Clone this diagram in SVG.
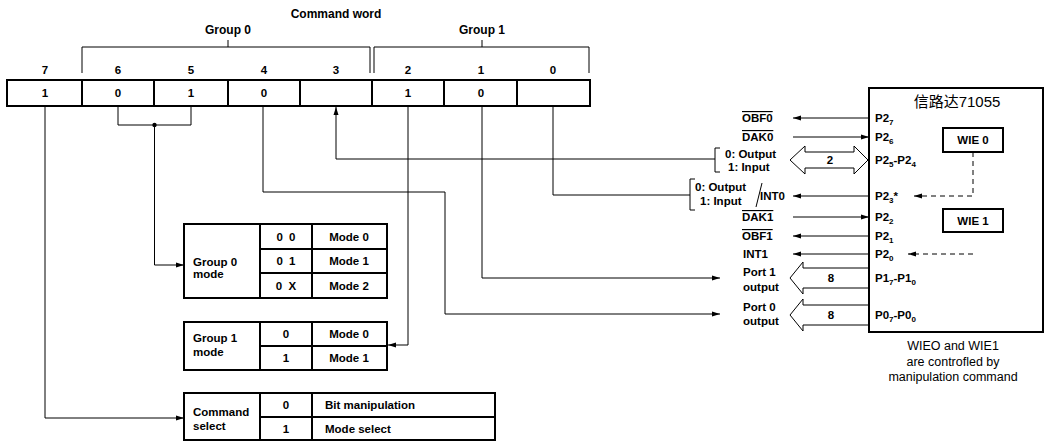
<svg xmlns="http://www.w3.org/2000/svg" width="1047" height="441" viewBox="0 0 1047 441">
<style>
text{font-family:"Liberation Sans",Arial,sans-serif;font-size:11.5px;font-weight:bold;fill:#000}
.c{text-anchor:middle}
.reg{font-weight:normal}
.box{fill:#fff;stroke:#000;stroke-width:2}
.ln{fill:none;stroke:#000;stroke-width:1}
.dash{fill:none;stroke:#000;stroke-width:1;stroke-dasharray:5,4}
.ol{text-decoration:overline}
</style>
<defs>
<marker id="ah" markerWidth="8" markerHeight="6" refX="8" refY="3" orient="auto" markerUnits="userSpaceOnUse"><path d="M0,0.5 L8,3 L0,5.5 z" fill="#000"/></marker>
</defs>
<rect width="1047" height="441" fill="#fff"/>

<g id="title">
<text class="c" x="336" y="18" style="font-size:12px">Command word</text>
<text class="c" x="228" y="34" style="font-size:12px">Group 0</text>
<text class="c" x="482" y="34" style="font-size:12px">Group 1</text>
</g>

<g id="brackets">
<path class="ln" d="M82,73 V47 H370 V73 M228,47 V40"/>
<path class="ln" d="M374,73 V47 H589 V73 M482,47 V40"/>
</g>

<g id="register">
<rect class="box" x="7" y="80" width="583" height="26"/>
<path stroke="#000" stroke-width="2" d="M82,80V106M154,80V106M228,80V106M300,80V106M372,80V106M444,80V106M517,80V106"/>
<text class="c" x="45" y="74">7</text>
<text class="c" x="118" y="74">6</text>
<text class="c" x="191" y="74">5</text>
<text class="c" x="264" y="74">4</text>
<text class="c" x="336" y="74">3</text>
<text class="c" x="408" y="74">2</text>
<text class="c" x="481" y="74">1</text>
<text class="c" x="553" y="74">0</text>
<text class="c" x="45" y="97">1</text>
<text class="c" x="118" y="97">0</text>
<text class="c" x="191" y="97">1</text>
<text class="c" x="264" y="97">0</text>
<text class="c" x="408" y="97">1</text>
<text class="c" x="481" y="97">0</text>
</g>

<g id="group0-mode">
<rect class="box" x="184" y="224" width="203" height="74"/>
<path stroke="#000" stroke-width="2" d="M260,224V298M312,224V298M260,249H387M260,273H387"/>
<text x="193" y="266">Group 0</text>
<text x="193" y="278">mode</text>
<text class="c" x="286" y="241" style="word-spacing:3px">0 0</text>
<text class="c" x="286" y="265" style="word-spacing:3px">0 1</text>
<text class="c" x="286" y="290" style="word-spacing:3px">0 X</text>
<text class="c" x="349" y="241">Mode 0</text>
<text class="c" x="349" y="265">Mode 1</text>
<text class="c" x="349" y="290">Mode 2</text>
</g>

<g id="group1-mode">
<rect class="box" x="184" y="322" width="203" height="48"/>
<path stroke="#000" stroke-width="2" d="M260,322V370M312,322V370M260,346H387"/>
<text x="193" y="342">Group 1</text>
<text x="193" y="356">mode</text>
<text class="c" x="286" y="338">0</text>
<text class="c" x="286" y="362">1</text>
<text class="c" x="349" y="338">Mode 0</text>
<text class="c" x="349" y="362">Mode 1</text>
</g>

<g id="command-select">
<rect class="box" x="184" y="393" width="311" height="47"/>
<path stroke="#000" stroke-width="2" d="M260,393V440M312,393V440M260,417H495"/>
<text x="193" y="416">Command</text>
<text x="193" y="430">select</text>
<text class="c" x="286" y="409">0</text>
<text class="c" x="286" y="433">1</text>
<text x="325" y="409">Bit manipulation</text>
<text x="325" y="433">Mode select</text>
</g>

<g id="chip">
<rect class="box" x="869" y="88" width="174" height="244"/>
<text class="c reg" x="957" y="107" style="font-size:15px;font-family:'Liberation Sans','Noto Sans CJK SC',sans-serif">信路达71055</text>
<text x="875" y="122">P2<tspan dy="3" style="font-size:8px">7</tspan></text>
<text x="875" y="141">P2<tspan dy="3" style="font-size:8px">6</tspan></text>
<text x="875" y="164">P2<tspan dy="3" style="font-size:8px">5</tspan><tspan dy="-3">-P2</tspan><tspan dy="3" style="font-size:8px">4</tspan></text>
<text x="875" y="200">P2<tspan dy="3" style="font-size:8px">3</tspan><tspan dy="-3">*</tspan></text>
<text x="875" y="221">P2<tspan dy="3" style="font-size:8px">2</tspan></text>
<text x="875" y="240">P2<tspan dy="3" style="font-size:8px">1</tspan></text>
<text x="875" y="258">P2<tspan dy="3" style="font-size:8px">0</tspan></text>
<text x="875" y="282">P1<tspan dy="3" style="font-size:8px">7</tspan><tspan dy="-3">-P1</tspan><tspan dy="3" style="font-size:8px">0</tspan></text>
<text x="875" y="319">P0<tspan dy="3" style="font-size:8px">7</tspan><tspan dy="-3">-P0</tspan><tspan dy="3" style="font-size:8px">0</tspan></text>
</g>

<g id="wie0">
<rect class="box" x="943" y="128" width="60" height="24"/>
<text class="c" x="973" y="144">WIE 0</text>
</g>
<g id="wie1">
<rect class="box" x="943" y="209" width="60" height="23"/>
<text class="c" x="973" y="225">WIE 1</text>
</g>

<g id="signals">
<text class="ol" x="742" y="122">OBF0</text>
<text class="ol" x="742" y="141">DAK0</text>
<text x="725" y="158">0: Output</text>
<text x="728" y="171">1: Input</text>
<text x="695" y="191">0: Output</text>
<text x="700" y="205">1: Input</text>
<text x="760" y="200">INT0</text>
<text class="ol" x="742" y="221">DAK1</text>
<text class="ol" x="742" y="240">OBF1</text>
<text x="743" y="258">INT1</text>
<text x="743" y="276">Port 1</text>
<text x="743" y="291">output</text>
<text x="743" y="311">Port 0</text>
<text x="743" y="325">output</text>
<text class="c" x="830" y="164">2</text>
<text class="c" x="831" y="282">8</text>
<text class="c" x="831" y="319">8</text>
</g>

<g id="caption">
<text class="c reg" x="953" y="350" style="font-size:12.5px">WIEO and WIE1</text>
<text class="c reg" x="953" y="366" style="font-size:12.5px">are controfled by</text>
<text class="c reg" x="953" y="381" style="font-size:12.5px">manipulation command</text>
</g>

<g id="connectors">
<path class="ln" d="M45,106 V418 H184" marker-end="url(#ah)"/>
<path class="ln" d="M118,106 V125 H191 V106"/>
<circle cx="154.5" cy="125" r="2.2" fill="#000"/>
<path class="ln" d="M154.5,125 V265 H184" marker-end="url(#ah)"/>
<path class="ln" d="M263,106 V192 H445 V314 H720" marker-end="url(#ah)"/>
<path class="ln" d="M715,159 H336 V107" marker-end="url(#ah)"/>
<path class="ln" d="M408,106 V345 H388" marker-end="url(#ah)"/>
<path class="ln" d="M482,106 V278 H720" marker-end="url(#ah)"/>
<path class="ln" d="M553,106 V195 H690"/>
<path class="ln" d="M720,148 H715 V172 H720"/>
<path class="ln" d="M695,179 H690 V210 H695"/>
<path class="ln" d="M762,183 L756,207"/>
<path class="ln" d="M869,118 H793" marker-end="url(#ah)"/>
<path class="ln" d="M793,137 H869" marker-end="url(#ah)"/>
<path class="ln" d="M869,196 H793" marker-end="url(#ah)"/>
<path class="ln" d="M793,217 H869" marker-end="url(#ah)"/>
<path class="ln" d="M869,236 H793" marker-end="url(#ah)"/>
<path class="ln" d="M869,254 H793" marker-end="url(#ah)"/>
<path class="dash" d="M973,152 V196 H914" marker-end="url(#ah)"/>
<path class="dash" d="M973,254 H908" marker-end="url(#ah)"/>
<path class="ln" d="M790,160 L805,146 V152 H854 V146 L868,160 L854,174 V168 H805 V174 Z"/>
<path class="ln" d="M869,268 H803 V262 L790,278 L803,294 V288 H869"/>
<path class="ln" d="M869,305 H803 V299 L790,315 L803,331 V325 H869"/>
</g>
</svg>
